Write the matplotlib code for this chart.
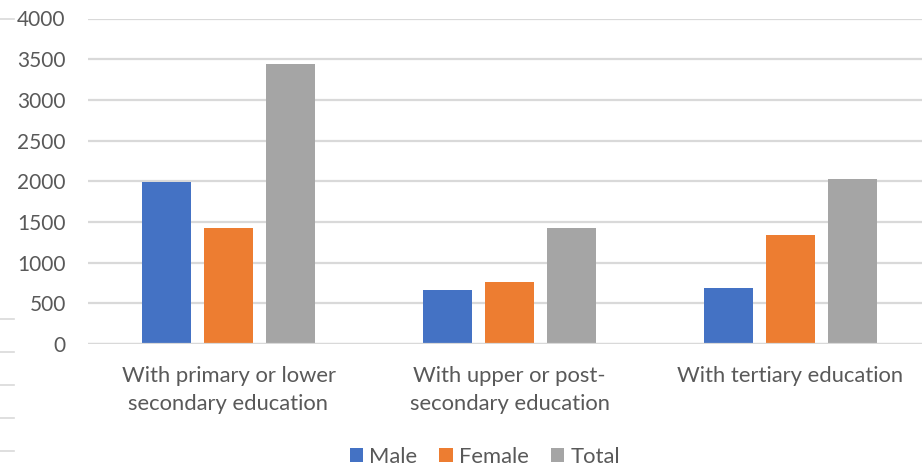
import matplotlib
matplotlib.use("Agg")
import matplotlib.pyplot as plt
import numpy as np
from matplotlib.lines import Line2D

categories = ["With primary or lower\nsecondary education",
              "With upper or post-\nsecondary education",
              "With tertiary education"]
series_names = ["Male", "Female", "Total"]
male = [1985, 659, 687]
female = [1423, 761, 1341]
total = [3436, 1420, 2033]
yticks = [0, 500, 1000, 1500, 2000, 2500, 3000, 3500, 4000]

colors = ["#4472C4", "#ED7D31", "#A5A5A5"]
text_color = "#595959"
grid_color = "#D9D9D9"
font = ["Lato", "DejaVu Sans"]

W, H = 922, 468
fig = plt.figure(figsize=(W / 100, H / 100), dpi=100)
left, right = 88, 931
top, bottom = 18.5, 344
ax = fig.add_axes([left / W, 1 - bottom / H, (right - left) / W, (bottom - top) / H])

x = np.arange(len(categories))
bw = 0.174
pitch = 0.222
for i, (vals, name) in enumerate(zip([male, female, total], series_names)):
    ax.bar(x + (i - 1) * pitch, vals, width=bw, color=colors[i], label=name, zorder=3)

ax.set_xlim(-0.5, len(categories) - 0.5)
ax.set_ylim(0, 4000)
ax.set_yticks(yticks)
ax.set_yticklabels([str(v) for v in yticks], family=font, fontsize=15, color=text_color)
ax.set_xticks(x)
ax.set_xticklabels(categories, family=font, fontsize=15.8, color=text_color, linespacing=1.5)
ax.tick_params(axis="both", length=0)
ax.tick_params(axis="y", pad=16)
ax.tick_params(axis="x", pad=16)
ax.grid(axis="y", color=grid_color, linewidth=1.6, zorder=0)
for s in ax.spines.values():
    s.set_visible(False)
ax.axhline(0, color=grid_color, linewidth=1.6, zorder=4)

leg = ax.legend(loc="center", bbox_to_anchor=(485 / W, 1 - 457 / H), bbox_transform=fig.transFigure,
                ncol=3, frameon=False, prop={"family": font, "size": 15.8},
                handlelength=0.6, handleheight=0.6, handletextpad=0.3, columnspacing=1.0)
for t in leg.get_texts():
    t.set_color(text_color)

# short stray tick marks at left edge
for yy in [18.5, 319, 352, 385, 418, 451]:
    fig.add_artist(Line2D([0, 14 / W], [1 - yy / H, 1 - yy / H], color=grid_color, linewidth=1.2,
                          transform=fig.transFigure))

fig.savefig("out.png", dpi=100)
